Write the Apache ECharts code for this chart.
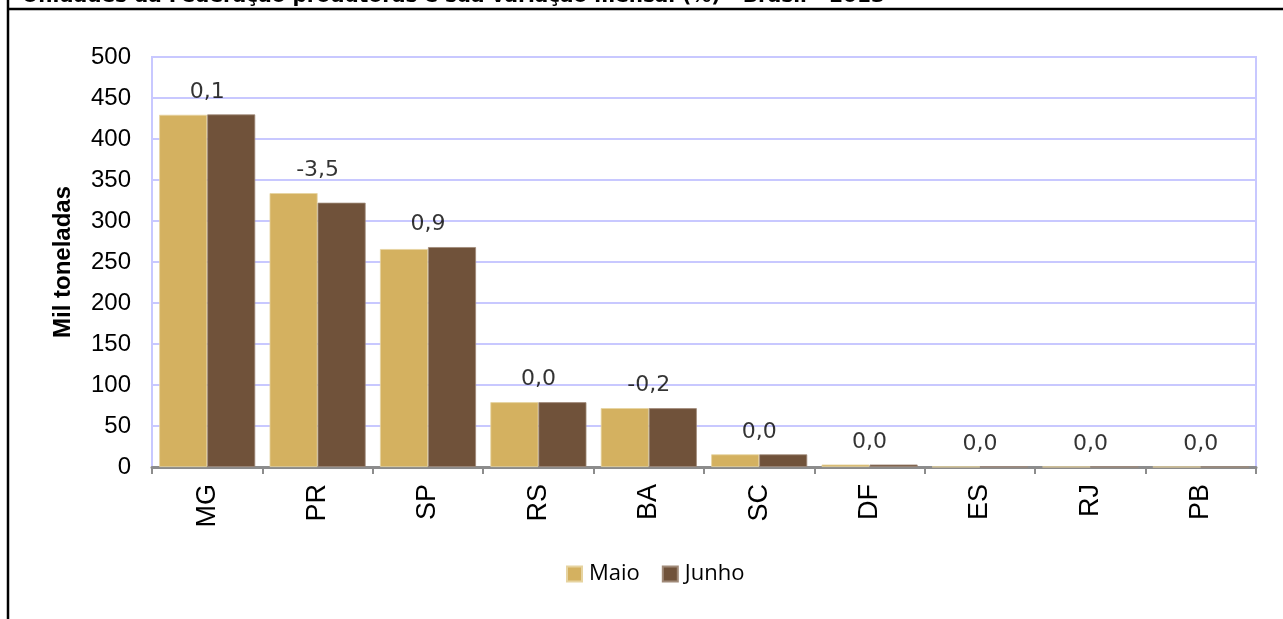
<!DOCTYPE html>
<html>
<head>
<meta charset="utf-8">
<script src="https://cdn.jsdelivr.net/npm/echarts@6/dist/echarts.min.js"></script>
<style>html,body{margin:0;padding:0;background:#fff;}#c{width:1283px;height:619px;}</style>
</head>
<body>
<div id="c"></div>
<script>
const categories = ['MG','PR','SP','RS','BA','SC','DF','ES','RJ','PB'];
const maio  = [429.5, 334.0, 265.8, 79.0, 71.8, 15.4, 3.0, 0.3, 0.2, 0.1];
const junho = [430.0, 322.3, 268.2, 79.0, 71.7, 15.4, 3.0, 0.3, 0.2, 0.1];
const variacao = ['0,1','-3,5','0,9','0,0','-0,2','0,0','0,0','0,0','0,0','0,0'];
const yTicks = {min: 0, max: 500, interval: 50};
const titleText = 'Unidades da Federação produtoras e sua variação mensal (%) - Brasil - 2013';

const labelAnchor = categories.map((c, i) => Math.max(maio[i], junho[i]));

const chart = echarts.init(document.getElementById('c'), null, {renderer: 'canvas'});
chart.setOption({
  animation: false,
  backgroundColor: '#ffffff',
  graphic: [
    {type: 'text', left: 22, top: -13, style: {text: titleText, font: 'bold 20px "DejaVu Sans"', fill: '#000'}},
    {type: 'line', shape: {x1: 8, y1: 0, x2: 8, y2: 619}, style: {stroke: '#000', lineWidth: 2.5}},
    {type: 'line', shape: {x1: 8, y1: 9, x2: 1283, y2: 9}, style: {stroke: '#000', lineWidth: 2.5}}
  ],
  grid: {left: 152, right: 27, top: 57, bottom: 152, show: true, borderColor: '#c8c8ff', borderWidth: 2, backgroundColor: 'transparent'},
  legend: {
    data: ['Maio', 'Junho'], left: 561, top: 558, icon: 'rect', itemWidth: 15, itemHeight: 15, itemGap: 22,
    textStyle: {fontFamily: 'Open Sans', fontSize: 22, color: '#000', padding: [0,0,0,2]}
  },
  xAxis: {
    type: 'category', data: categories,
    axisLine: {lineStyle: {color: '#8c8c8c', width: 3}},
    axisTick: {show: true, length: 7, lineStyle: {color: '#8c8c8c', width: 2}},
    axisLabel: {rotate: 90, margin: 17, fontFamily: 'Liberation Sans', fontSize: 27, color: '#000'}
  },
  yAxis: {
    type: 'value', min: yTicks.min, max: yTicks.max, interval: yTicks.interval,
    name: 'Mil toneladas', nameLocation: 'middle', nameGap: 77,
    nameTextStyle: {fontFamily: 'Liberation Sans', fontWeight: 'bold', fontSize: 24, color: '#000'},
    axisLine: {show: false}, axisTick: {show: false},
    axisLabel: {margin: 21, fontFamily: 'Liberation Sans', fontSize: 24, color: '#000'},
    splitLine: {lineStyle: {color: '#c8c8ff', width: 2}}
  },
  series: [
    {name: 'Maio', type: 'bar', data: maio, barGap: '0%', barCategoryGap: '13%',
     itemStyle: {color: '#d4b160', borderColor: '#e6d3a0', borderWidth: 0.8}},
    {name: 'Junho', type: 'bar', data: junho,
     itemStyle: {color: '#70523a', borderColor: '#a08a78', borderWidth: 0.8}},
    {name: 'var', type: 'scatter', data: labelAnchor, symbolSize: 1, itemStyle: {color: 'rgba(0,0,0,0)'},
     silent: true, z: 5,
     label: {show: true, position: 'top', distance: 11, fontFamily: 'DejaVu Sans', fontSize: 22, color: '#000',
       formatter: p => variacao[p.dataIndex]}}
  ]
});
</script>
</body>
</html>
